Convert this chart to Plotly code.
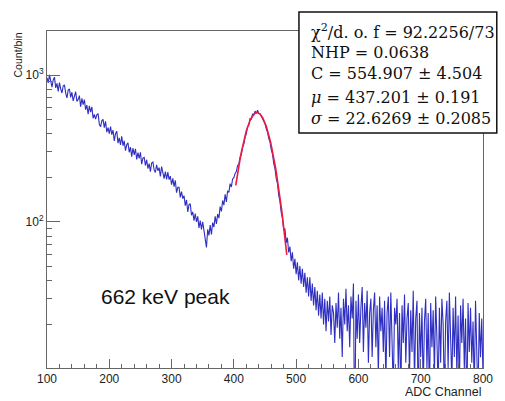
import plotly.graph_objects as go
import numpy as np

# ---------------- data ----------------
bin_start = 100      # first ADC channel shown
bin_step = 2         # channels per plotted point

counts = [
    959, 884, 1003, 883, 828, 926, 968, 818, 877, 774,   # 100-118
    888, 805, 755, 843, 858, 754, 698, 790, 803, 705,    # 120
    764, 667, 730, 770, 662, 681, 725, 609, 693, 630,    # 140
    680, 581, 624, 541, 617, 559, 608, 508, 539, 501,    # 160
    536, 546, 462, 444, 488, 499, 439, 484, 408, 439,    # 180
    399, 446, 393, 422, 356, 399, 415, 344, 373, 334,    # 200
    382, 330, 356, 306, 335, 345, 298, 323, 278, 318,    # 220
    286, 314, 266, 296, 271, 298, 247, 272, 275, 242,    # 240
    265, 231, 249, 220, 252, 256, 226, 217, 245, 223,    # 260
    234, 204, 238, 209, 197, 220, 195, 218, 194, 205,    # 280
    179, 198, 174, 192, 158, 172, 172, 147, 161, 144,    # 300
    151, 129, 141, 117, 131, 133, 111, 117, 102, 114,    # 320
    100, 109, 91, 102, 89, 100, 87, 79, 67, 89,          # 340
    81, 95, 82, 99, 92, 109, 97, 113, 106, 127,          # 360
    118, 140, 130, 154, 137, 163, 159, 182, 173, 196,    # 380
    200, 214, 220, 242, 248, 276, 286, 322, 338, 376,    # 400
    398, 446, 455, 505, 500, 545, 532, 568, 548, 576,    # 420
    550, 545, 522, 510, 480, 465, 430, 408, 370, 350,    # 440
    310, 290, 250, 230, 198, 182, 152, 138, 116, 106,    # 460
    88, 90, 72, 78, 62, 68, 54, 62, 48, 56,              # 480
    44, 53, 40, 50, 38, 48, 36, 45, 33, 42,              # 500
    31, 42, 29, 38, 27, 36, 25, 34, 23, 32,              # 520
    22, 33, 20, 30, 18, 29, 21, 31, 17, 27,              # 540
    24, 15, 28, 19, 33, 16, 26, 12, 30, 20,              # 560
    35, 18, 27, 14, 31, 22, 38, 3, 29, 16,               # 580
    32, 15, 26, 36, 13, 28, 19, 34, 11, 24,              # 600
    30, 12, 25, 33, 14, 27, 9, 31, 18, 26,               # 620
    13, 29, 8, 24, 31, 12, 33, 17, 7, 26,                # 640
    20, 30, 10, 24, 6, 27, 15, 32, 11, 22,               # 660
    28, 9, 25, 13, 34, 8, 22, 29, 5, 24,                 # 680
    12, 26, 7, 21, 30, 10, 24, 6, 28, 14,                # 700
    25, 9, 31, 16, 7, 26, 11, 30, 20, 6,                 # 720
    21, 29, 10, 33, 14, 8, 26, 12, 31, 9,                # 740
    23, 7, 27, 15, 30, 10, 22, 5, 28, 13,                # 760
    26, 11, 21, 7, 29, 14, 6, 24, 12, 22,                # 780
    9,                                                   # 800
]
channels = [bin_start + bin_step * i for i in range(len(counts))]

# fit results (from the stats box)
chi2_text = "92.2256/73"
nhp = "0.0638"
C, C_err = "554.907", "4.504"
mu, mu_err = "437.201", "0.191"
sigma, sigma_err = "22.6269", "0.2085"
fit_range = [403, 485]

x_ticks = [100, 200, 300, 400, 500, 600, 700, 800]
y_ticks = [100, 1000]
y_ticktext = ["10<sup>2</sup>", "10<sup>3</sup>"]
y_minor = [20, 30, 40, 50, 60, 70, 80, 90, 200, 300, 400, 500, 600, 700, 800, 900]

# fit curve from the fitted Gaussian parameters
fx = np.linspace(fit_range[0], fit_range[1], 120)
fy = float(C) * np.exp(-0.5 * ((fx - float(mu)) / float(sigma)) ** 2)

# ---------------- figure ----------------
W, H = 505, 401
L, R, T, B = 47, 15, 31, 33
pw, ph = W - L - R, H - T - B

def px(xp):
    return (xp - L) / pw

def py(yp):
    return (H - B - yp) / ph

fig = go.Figure()
fig.add_trace(go.Scatter(x=channels, y=counts, mode="lines",
                         line=dict(color="#2f2fc2", width=1.1), showlegend=False))
fig.add_trace(go.Scatter(x=fx, y=fy, mode="lines",
                         line=dict(color="#ee1a3c", width=1.6), showlegend=False))

axis_font = dict(family="Liberation Sans, Arial, sans-serif", size=12, color="#222")
fig.update_xaxes(range=[100, 800], tickvals=x_ticks, ticks="inside", ticklen=9,
                 tickcolor="#666", tickwidth=1, showline=True, linecolor="#666",
                 linewidth=1, mirror=True, showgrid=False, zeroline=False,
                 tickfont=axis_font,
                 minor=dict(ticks="inside", dtick=20, tick0=100, ticklen=4,
                            tickcolor="#666", showgrid=False))
fig.update_yaxes(type="log", range=[1.005, 3.3], tickvals=y_ticks, ticktext=y_ticktext,
                 ticks="inside", ticklen=13, tickcolor="#666", tickwidth=1,
                 showline=True, linecolor="#666", linewidth=1, mirror=True,
                 showgrid=False, zeroline=False, tickfont=axis_font,
                 minor=dict(ticks="inside", tickvals=y_minor, ticklen=5,
                            tickcolor="#666", showgrid=False))

annos = []
# axis titles
annos.append(dict(text="ADC Channel", xref="paper", yref="paper", x=1.0, y=py(392),
                  xanchor="right", yanchor="middle", showarrow=False,
                  font=dict(family="Liberation Sans, Arial, sans-serif", size=12.5, color="#222")))
annos.append(dict(text="Count/bin", xref="paper", yref="paper", x=px(17.5), y=py(30),
                  xanchor="center", yanchor="top", textangle=-90, showarrow=False,
                  font=dict(family="Liberation Sans, Arial, sans-serif", size=10.5, color="#222")))
# label
annos.append(dict(text="662 keV peak", xref="paper", yref="paper", x=px(100), y=py(296),
                  xanchor="left", yanchor="middle", showarrow=False,
                  font=dict(family="Liberation Sans, Arial, sans-serif", size=21, color="#111")))
# stats box lines
stats_lines = [
    "χ<sup>2</sup>/d. o. f = " + chi2_text,
    "NHP = " + nhp,
    "C = " + C + " ± " + C_err,
    "<i>μ</i> = " + mu + " ± " + mu_err,
    "<i>σ</i> = " + sigma + " ± " + sigma_err,
]
line_y = [32, 52, 74, 97, 118]
for t, yy in zip(stats_lines, line_y):
    annos.append(dict(text=t, xref="paper", yref="paper", x=px(313), y=py(yy),
                      xanchor="left", yanchor="middle", showarrow=False,
                      font=dict(family="DejaVu Serif, serif", size=16, color="#111")))

fig.update_layout(
    width=W, height=H, margin=dict(l=L, r=R, t=T, b=B),
    paper_bgcolor="white", plot_bgcolor="white",
    annotations=annos,
    shapes=[dict(type="rect", xref="paper", yref="paper",
                 x0=px(303), x1=px(504), y0=py(133), y1=py(12),
                 line=dict(color="#111", width=1.5), fillcolor="white", layer="above")],
)
fig.write_html("out.html")
